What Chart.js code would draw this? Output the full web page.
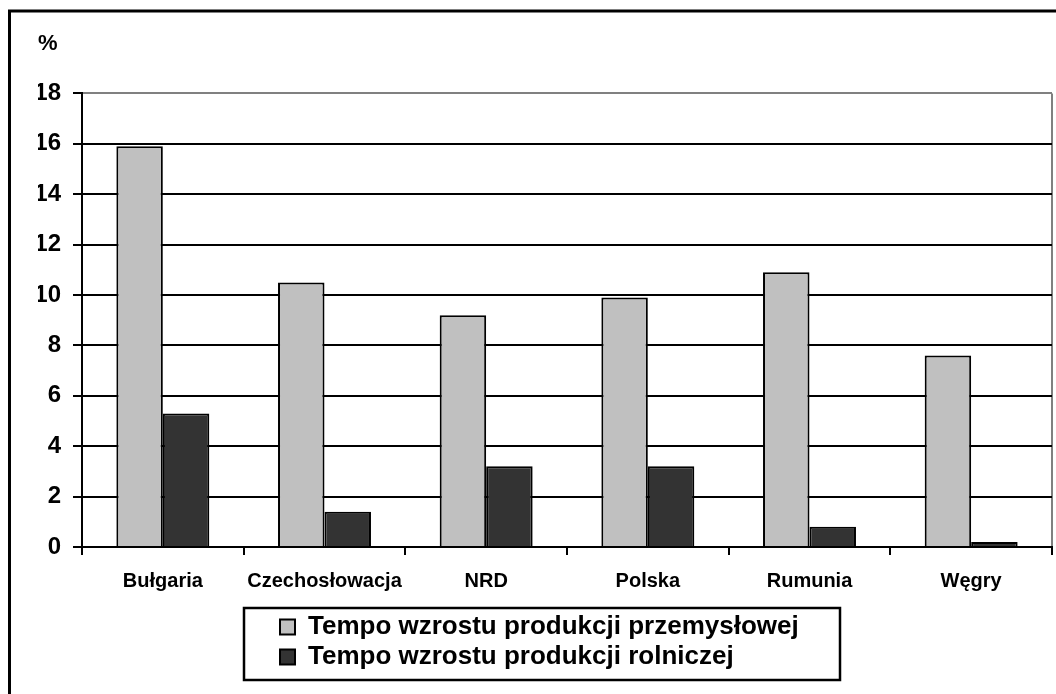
<!DOCTYPE html>
<html>
<head>
<meta charset="utf-8">
<script src="https://cdn.jsdelivr.net/npm/chart.js@4"></script>
<style>
  body { margin: 0; background: #fff; }
</style>
</head>
<body>
<canvas id="myChart" width="1056" height="694"></canvas>
<script>
const countries = ['Bułgaria', 'Czechosłowacja', 'NRD', 'Polska', 'Rumunia', 'Węgry'];
const industryGrowth = [15.9, 10.5, 9.2, 9.9, 10.9, 7.6];
const farmGrowth = [5.3, 1.4, 3.2, 3.2, 0.8, 0.2];
const yTicks = [0, 2, 4, 6, 8, 10, 12, 14, 16, 18];

// outer frame + box around the legend
const framePlugin = {
  id: 'frame',
  afterLayout(chart) {
    // legend sits under the plot, left aligned, not full width
    chart.legend.left = 276;
  },
  afterDraw(chart) {
    const ctx = chart.ctx;
    const lg = chart.legend;
    ctx.save();
    ctx.strokeStyle = '#000';
    ctx.lineWidth = 3;
    ctx.strokeRect(9.5, 11, 1200, 900);
    ctx.lineWidth = 2.5;
    ctx.strokeRect(lg.left - 32, lg.top - 2, 596, lg.height + 2);
    ctx.restore();
  },
};

function renderChart() {
  const ctx = document.getElementById('myChart');
  Chart.defaults.color = '#000';

  new Chart(ctx, {
    type: 'bar',
    data: {
      labels: countries,
      datasets: [
        {
          label: 'Tempo wzrostu produkcji przemysłowej',
          data: industryGrowth,
          backgroundColor: '#c0c0c0',
          borderColor: '#000',
          borderWidth: 2,
        },
        {
          label: 'Tempo wzrostu produkcji rolniczej',
          data: farmGrowth,
          backgroundColor: '#333333',
          borderColor: '#000',
          borderWidth: 2,
        },
      ],
    },
    plugins: [framePlugin],
    options: {
      responsive: false,
      animation: false,
      layout: { padding: { left: 38, right: 4, top: 0, bottom: 14 } },
      datasets: {
        bar: { categoryPercentage: 0.575, barPercentage: 1 },
      },
      plugins: {
        title: {
          display: true,
          text: '%',
          align: 'start',
          font: { family: 'Liberation Sans, Arial', size: 22, weight: 'bold' },
          padding: { top: 31, bottom: 36 },
        },
        legend: {
          position: 'bottom',
          align: 'start',
          fullSize: false,
          labels: {
            boxWidth: 15,
            boxHeight: 15,
            padding: 4,
            font: { family: 'Liberation Sans, Arial', size: 26, weight: 'bold' },
          },
        },
        tooltip: { enabled: false },
      },
      scales: {
        x: {
          afterFit(scale) { scale.height = 63; },
          grid: {
            offset: true,
            drawOnChartArea: true,
            tickLength: 8,
            lineWidth: 2,
            tickColor: '#000',
            color: (c) => (c.type === 'tick' ? 'rgba(0,0,0,0)' : '#808080'),
          },
          border: { color: '#000', width: 2 },
          ticks: {
            autoSkip: false,
            maxRotation: 0,
            padding: 14,
            font: { family: 'Liberation Sans, Arial', size: 20, weight: 'bold' },
          },
        },
        y: {
          min: 0,
          max: 18,
          afterFit(scale) { scale.width = 44; },
          afterBuildTicks(scale) { scale.ticks = yTicks.map((v) => ({ value: v })); },
          grid: {
            lineWidth: 2,
            tickLength: 9,
            tickColor: '#000',
            color: (c) => (c.tick && c.tick.value === 18 ? '#808080' : '#000'),
          },
          border: { color: '#000', width: 2 },
          ticks: {
            padding: 12,
            font: { family: 'Liberation Sans, Arial', size: 24, weight: 'bold' },
          },
        },
      },
    },
  });
}

renderChart();
</script>
</body>
</html>
